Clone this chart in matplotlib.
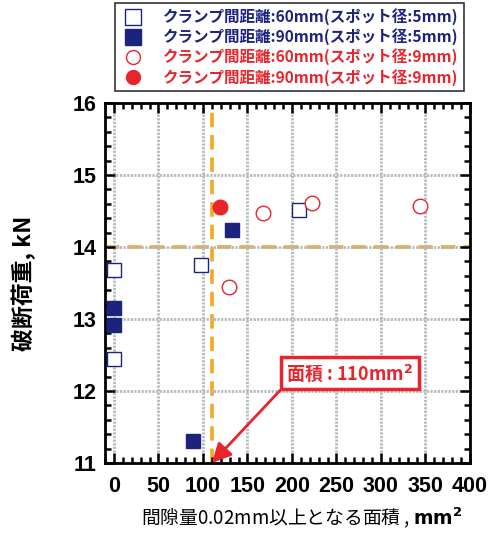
import matplotlib
matplotlib.use("Agg")
import matplotlib.pyplot as plt
from matplotlib.ticker import MultipleLocator

plt.rcParams['font.family'] = ['Noto Sans CJK JP', 'DejaVu Sans']

## data ##
# clamp 60mm, spot 5mm
sq_open_x = [0, 0, 98, 208]
sq_open_y = [13.68, 12.44, 13.75, 14.52]
# clamp 90mm, spot 5mm
sq_fill_x = [0, 0, 89, 133]
sq_fill_y = [13.15, 12.92, 11.30, 14.24]
# clamp 60mm, spot 9mm
ci_open_x = [129, 167, 223, 344]
ci_open_y = [13.44, 14.47, 14.61, 14.57]
# clamp 90mm, spot 9mm
ci_fill_x = [119]
ci_fill_y = [14.56]

labels = ['クランプ間距離:60mm(スポット径:5mm)',
          'クランプ間距離:90mm(スポット径:5mm)',
          'クランプ間距離:60mm(スポット径:9mm)',
          'クランプ間距離:90mm(スポット径:9mm)']

area_limit = 110
load_limit = 14

navy = '#1c237f'
red = '#e8242c'
orange = '#f5a623'
grid_c = '#b4babf'

fig = plt.figure(figsize=(4.98, 5.33), dpi=100)
ax = fig.add_axes([105/498, 1-463/533, 365/498, 360/533])

ax.set_xlim(-10, 400)
ax.set_ylim(11, 16)

## grid ##
ax.xaxis.set_major_locator(MultipleLocator(50))
ax.xaxis.set_minor_locator(MultipleLocator(10))
ax.yaxis.set_major_locator(MultipleLocator(1))
ax.yaxis.set_minor_locator(MultipleLocator(0.2))
ax.grid(True, which='major', color=grid_c, lw=2.0, ls=(0, (0.8, 0.5)), zorder=0)

ax.axvline(area_limit, color=orange, lw=2.6, ls=(0, (4, 2.2)), zorder=1)
ax.axhline(load_limit, color=orange, lw=2.6, ls=(0, (4, 2.2)), zorder=1)

ms = 10.5
ax.plot(sq_open_x, sq_open_y, 's', ms=ms, mfc='white', mec=navy, mew=1.0, ls='none', zorder=3)
ax.plot(sq_fill_x, sq_fill_y, 's', ms=ms, mfc=navy, mec=navy, mew=1.0, ls='none', zorder=3)
ax.plot(ci_open_x, ci_open_y, 'o', ms=ms, mfc='white', mec=red, mew=1.0, ls='none', zorder=3)
ax.plot(ci_fill_x, ci_fill_y, 'o', ms=ms, mfc=red, mec=red, mew=1.0, ls='none', zorder=3)

## ticks ##
for s in ax.spines.values():
    s.set_linewidth(2)
ax.tick_params(which='both', direction='in', top=True, right=True, width=1.8)
ax.tick_params(which='major', length=7)
ax.tick_params(which='minor', length=4)
ax.tick_params(axis='x', which='major', pad=9)
ax.tick_params(axis='y', which='major', pad=6)
for t in ax.get_xticklabels() + ax.get_yticklabels():
    t.set_fontfamily('Liberation Sans')
    t.set_fontweight('bold')
    t.set_fontsize(15.5)

ax.set_ylabel('破断荷重, kN', fontsize=16.5, fontweight='bold')
ax.yaxis.set_label_coords(-0.19, 0.5)
ax.set_xlabel(r'間隙量0.02mm以上となる面積 , $\mathbf{mm^2}$', fontsize=13.5)
ax.xaxis.set_label_coords(0.54, -0.118)

## annotation box ##
ax.annotate('面積 : 110mm$\\mathbf{^2}$', xy=(area_limit, 11.0), xytext=(265, 12.25),
            fontsize=13, fontweight='bold', ha='center', va='center', color=red,
            bbox=dict(boxstyle='square,pad=0.3', fc='white', ec=red, lw=2.5),
            arrowprops=dict(arrowstyle='-|>,head_length=0.9,head_width=0.45', color=red,
                            lw=2, relpos=(0.0, 0.0), shrinkA=0, shrinkB=0),
            zorder=5)

## legend ##
h = [plt.Line2D([], [], marker='s', ms=11, mfc='white', mec=navy, ls='none'),
     plt.Line2D([], [], marker='s', ms=11, mfc=navy, mec=navy, ls='none'),
     plt.Line2D([], [], marker='o', ms=10, mfc='white', mec=red, ls='none'),
     plt.Line2D([], [], marker='o', ms=10, mfc=red, mec=red, ls='none')]
leg = fig.legend(h, labels, loc='upper left', bbox_to_anchor=(115/498, 1-3/533),
                 frameon=True, fancybox=False, shadow=False, handletextpad=1.1,
                 labelspacing=0.2, borderpad=0.35, handlelength=1.6, borderaxespad=0,
                 prop=dict(family=['Noto Sans CJK JP'], weight='bold', size=11.2))
leg.get_frame().set_edgecolor('black')
leg.get_frame().set_linewidth(1.2)
for txt, c in zip(leg.get_texts(), [navy, navy, red, red]):
    txt.set_color(c)

fig.savefig('out.png', dpi=100)
